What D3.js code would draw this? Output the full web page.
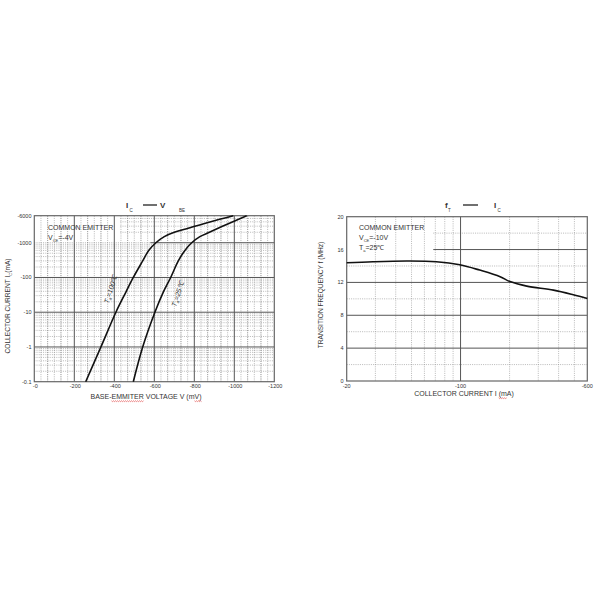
<!DOCTYPE html>
<html lang="en">
  <head>
    <meta charset="utf-8">
    <title>Ic - Vbe and fT - Ic</title>
    <script type="text/javascript" src="https://cdn.jsdelivr.net/npm/d3@7"></script>
    <style>
      body { margin: 0; background: #fff; }
      text { font-family: Arial, 'Liberation Sans', sans-serif; fill: #333; }
    </style>
  </head>

  <body>
    <script>
      // ---- data: left chart (Ic vs Vbe, values in -mA / -mV) ----
      var vbeTicks = [0, 200, 400, 600, 800, 1000, 1200]
      var icDecades = [0.1, 1, 10, 100, 1000, 6000]
      var icLabels = ['-0.1', '-1', '-10', '-100', '-1000', '-6000']

      var cur100 = [0.1, 1, 10, 38, 100, 300, 600, 1000, 1500, 2000, 2530, 3960, 6000]
      var volt100 = [257, 333, 408, 458, 495, 542, 572, 608, 650, 700, 762, 878, 995]
      var cur25 = [0.1, 1, 10, 38, 100, 300, 600, 1000, 1500, 2030, 3530, 6000]
      var volt25 = [495, 542, 603, 645, 682, 720, 753, 787, 828, 878, 970, 1062]

      // ---- data: right chart (fT vs Ic) ----
      var icTicks = [20, 100, 600]
      var icTickLabels = ['-20', '-100', '-600']
      var icMinor = [30, 40, 50, 60, 70, 80, 90, 200, 300, 400, 500]
      var ftTicks = [0, 4, 8, 12, 16, 20]
      var ftMinor = [2, 6, 10, 14, 18]

      var ftCurrent = [20, 29, 47, 71, 99, 131, 175, 201, 255, 372, 492, 600]
      var ftValue = [14.4, 14.52, 14.6, 14.52, 14.15, 13.5, 12.7, 12.1, 11.55, 11.06, 10.5, 10.04]

      var svg = d3.select('body').append('svg').attr('width', 600).attr('height', 600)

      var majorColor = '#555', minorColor = '#8a8a8a'

      function hLine(g, x0, x1, y, dotted) {
        g.append('line').attr('x1', x0).attr('x2', x1).attr('y1', y).attr('y2', y)
          .attr('stroke', dotted ? minorColor : majorColor)
          .attr('stroke-width', dotted ? 0.6 : 1)
          .attr('stroke-dasharray', dotted ? '1,1.2' : null)
      }
      function vLine(g, x, y0, y1, dotted) {
        g.append('line').attr('x1', x).attr('x2', x).attr('y1', y0).attr('y2', y1)
          .attr('stroke', dotted ? minorColor : majorColor)
          .attr('stroke-width', dotted ? 0.6 : 1)
          .attr('stroke-dasharray', dotted ? '1,1.2' : null)
      }

      // red squiggle under a part of a text (spell check marks in the scan)
      function squiggle(textNode, from, to) {
        var a = textNode.getStartPositionOfChar(from)
        var b = textNode.getEndPositionOfChar(to - 1)
        var y = a.y + 2, pts = [], k = 0
        for (var x = a.x; x <= b.x; x += 1) { pts.push([x, y + (k++ % 2 ? 0.6 : -0.2)]) }
        svg.append('path').attr('d', d3.line()(pts)).attr('fill', 'none')
          .attr('stroke', '#d33').attr('stroke-width', 0.6)
      }

      // ================= LEFT CHART =================
      var xL = d3.scaleLinear().domain([0, 1200]).range([34.3, 274.3])
      var yL = d3.scaleLog().domain([0.1, 6000]).range([381.7, 215.7])
      var gL = svg.append('g')

      // minor vertical lines: thirds (dash) and sixths (faint)
      for (var v = 0; v < 1200; v += 200 / 6) {
        var k = Math.round(v / (200 / 6))
        if (k % 6 === 0) continue
        vLine(gL, xL(v), yL(6000), yL(0.1), true)
        if (k % 2 === 0) vLine(gL, xL(v), yL(6000), yL(0.1), true)
      }
      // minor horizontal log lines (top decade starts right of the legend)
      icDecades.slice(0, 5).forEach(function(d) {
        for (var m = 2; m <= 9; m++) {
          var c = d * m
          if (c >= 6000) break
          hLine(gL, xL(c > 1000 ? 430 : 0), xL(1200), yL(c), true)
        }
      })
      // major lines
      vbeTicks.slice(1, -1).forEach(function(v) { vLine(gL, xL(v), yL(6000), yL(0.1), false) })
      icDecades.slice(1, -1).forEach(function(c) {
        if (c === 1000) {
          hLine(gL, xL(0), xL(580), yL(c), true)
          hLine(gL, xL(580), xL(1200), yL(c), false)
        } else {
          hLine(gL, xL(0), xL(1200), yL(c), false)
        }
      })
      gL.append('rect').attr('x', xL(0)).attr('y', yL(6000))
        .attr('width', xL(1200) - xL(0)).attr('height', yL(0.1) - yL(6000))
        .attr('fill', 'none').attr('stroke', '#666').attr('stroke-width', 1.2)

      // tick labels
      gL.selectAll('text.yt').data(icDecades).enter().append('text')
        .attr('x', 31.5).attr('y', function(d) { return yL(d) + 2 })
        .attr('text-anchor', 'end').attr('font-size', 5.5)
        .text(function(d, i) { return icLabels[i] })
      gL.selectAll('text.xt').data(vbeTicks).enter().append('text')
        .attr('x', function(d) { return xL(d) + 1 }).attr('y', 387.5)
        .attr('text-anchor', 'middle').attr('font-size', 5.5)
        .text(function(d) { return '-' + d })

      // curves
      var lineL = d3.line().curve(d3.curveCatmullRom.alpha(0.5))
      var pts100 = cur100.map(function(c, i) { return [xL(volt100[i]), yL(c)] })
      var pts25 = cur25.map(function(c, i) { return [xL(volt25[i]), yL(c)] })
      ;[pts100, pts25].forEach(function(p) {
        gL.append('path').attr('d', lineL(p)).attr('fill', 'none')
          .attr('stroke', '#111').attr('stroke-width', 1.6)
      })

      // curve labels
      function tempLabel(g, x, y, t) {
        var tx = g.append('text').attr('transform', 'translate(' + x + ',' + y + ') rotate(-72)')
          .attr('text-anchor', 'middle').attr('font-size', 7).attr('font-style', 'italic')
        tx.append('tspan').text('T')
        tx.append('tspan').attr('font-size', 4.5).attr('dy', 1.5).text('a')
        tx.append('tspan').attr('dy', -1.5).text('=' + t + '\u2103')
      }
      tempLabel(gL, 113, 290, '100')
      tempLabel(gL, 180, 295, '25')

      // legend
      gL.append('text').attr('x', 48).attr('y', 229.5).attr('font-size', 7).text('COMMON EMITTER')
      var vce = gL.append('text').attr('x', 48).attr('y', 239.5).attr('font-size', 7)
      vce.append('tspan').text('V')
      vce.append('tspan').attr('font-size', 4).attr('dy', 2).text('CE')
      vce.append('tspan').attr('dy', -2).text('=-4V')

      // title
      var tL = svg.append('text').attr('y', 208).attr('font-size', 8).attr('font-weight', 'bold').attr('fill', '#111')
      tL.append('tspan').attr('x', 126).text('I')
      tL.append('tspan').attr('x', 129.5).attr('dy', 3.5).attr('font-size', 4.5).attr('font-weight', 'normal').text('C')
      tL.append('tspan').attr('x', 160).attr('dy', -3.5).text('V')
      tL.append('tspan').attr('x', 179).attr('dy', 3.5).attr('font-size', 4.5).attr('font-weight', 'normal').text('BE')
      svg.append('line').attr('x1', 143).attr('x2', 157).attr('y1', 205).attr('y2', 205)
        .attr('stroke', '#111').attr('stroke-width', 1.2)

      // axis titles
      var yTitleL = svg.append('text').attr('transform', 'translate(10,306) rotate(-90)')
        .attr('text-anchor', 'middle').attr('font-size', 6.6)
      yTitleL.append('tspan').text('COLLECTOR CURRENT  I')
      yTitleL.append('tspan').attr('font-size', 4).attr('dy', 2).text('C')
      yTitleL.append('tspan').attr('dy', -2).text('(mA)')
      var xTitleL = svg.append('text').attr('x', 146).attr('y', 399).attr('text-anchor', 'middle')
        .attr('font-size', 7).text('BASE-EMMITER VOLTAGE  V (mV)')
      squiggle(xTitleL.node(), 5, 12)
      squiggle(xTitleL.node(), 25, 27)

      // ================= RIGHT CHART =================
      var xR = d3.scaleLog().domain([20, 600]).range([346.7, 587.3])
      var yR = d3.scaleLinear().domain([0, 20]).range([381, 216.7])
      var gR = svg.append('g')

      icMinor.forEach(function(c) { vLine(gR, xR(c), yR(20), yR(0), true) })
      ftMinor.forEach(function(f) { hLine(gR, xR(f > 16 ? 68 : 20), xR(600), yR(f), true) })
      vLine(gR, xR(100), yR(20), yR(0), false)
      ftTicks.slice(1, -1).forEach(function(f) { hLine(gR, xR(f === 16 ? 68 : 20), xR(600), yR(f), false) })
      gR.append('rect').attr('x', xR(20)).attr('y', yR(20))
        .attr('width', xR(600) - xR(20)).attr('height', yR(0) - yR(20))
        .attr('fill', 'none').attr('stroke', '#666').attr('stroke-width', 1.2)

      gR.selectAll('text.yt').data(ftTicks).enter().append('text')
        .attr('x', 343.5).attr('y', function(d) { return yR(d) + 2 })
        .attr('text-anchor', 'end').attr('font-size', 5.5)
        .text(function(d) { return d })
      gR.selectAll('text.xt').data(icTicks).enter().append('text')
        .attr('x', function(d) { return xR(d) }).attr('y', 387.5)
        .attr('text-anchor', 'middle').attr('font-size', 5.5)
        .text(function(d, i) { return icTickLabels[i] })

      var lineR = d3.line().curve(d3.curveCatmullRom.alpha(0.5))
      gR.append('path')
        .attr('d', lineR(ftCurrent.map(function(c, i) { return [xR(c), yR(ftValue[i])] })))
        .attr('fill', 'none').attr('stroke', '#111').attr('stroke-width', 1.6)

      gR.append('text').attr('x', 359).attr('y', 229.5).attr('font-size', 7).text('COMMON EMITTER')
      var vceR = gR.append('text').attr('x', 359).attr('y', 239.5).attr('font-size', 7)
      vceR.append('tspan').text('V')
      vceR.append('tspan').attr('font-size', 4).attr('dy', 2).text('CE')
      vceR.append('tspan').attr('dy', -2).text('=-10V')
      var taR = gR.append('text').attr('x', 359).attr('y', 249.5).attr('font-size', 7)
      taR.append('tspan').text('T')
      taR.append('tspan').attr('font-size', 4).attr('dy', 2).text('a')
      taR.append('tspan').attr('dy', -2).text('=25\u2103')

      var tR = svg.append('text').attr('y', 208).attr('font-size', 8).attr('font-weight', 'bold').attr('fill', '#111')
      tR.append('tspan').attr('x', 445).text('f')
      tR.append('tspan').attr('x', 448).attr('dy', 3.5).attr('font-size', 4.5).attr('font-weight', 'normal').text('T')
      tR.append('tspan').attr('x', 494).attr('dy', -3.5).text('I')
      tR.append('tspan').attr('x', 497.5).attr('dy', 3.5).attr('font-size', 4.5).attr('font-weight', 'normal').text('C')
      svg.append('line').attr('x1', 463).attr('x2', 478).attr('y1', 205).attr('y2', 205)
        .attr('stroke', '#111').attr('stroke-width', 1.2)

      svg.append('text').attr('transform', 'translate(323,295) rotate(-90)')
        .attr('text-anchor', 'middle').attr('font-size', 6.6)
        .text('TRANSITION FREQUENCY f (MHz)')
      var xTitleR = svg.append('text').attr('x', 464).attr('y', 396).attr('text-anchor', 'middle')
        .attr('font-size', 7).text('COLLECTOR CURRENT I (mA)')
      squiggle(xTitleR.node(), 20, 22)
    </script>
  </body>
</html>
